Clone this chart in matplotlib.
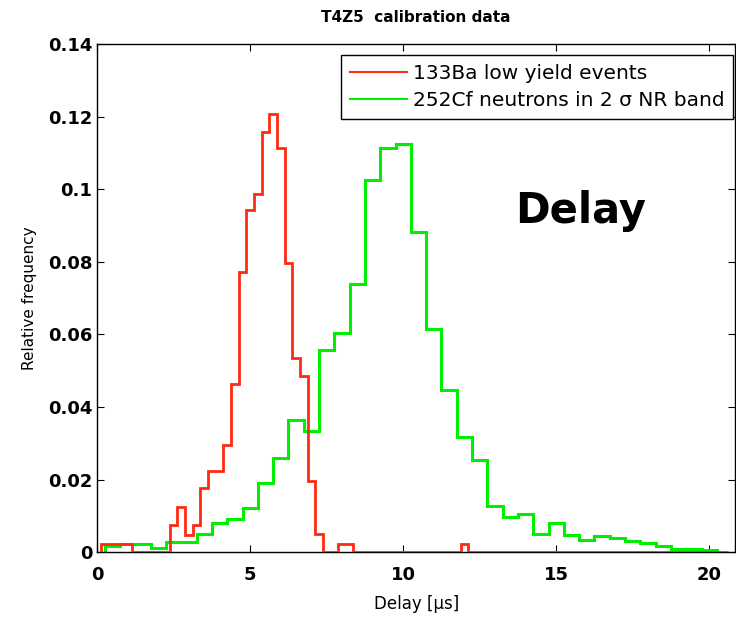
import numpy as np
import matplotlib
matplotlib.use("Agg")
import matplotlib.pyplot as plt

# 133Ba low yield events: bin centres (0.25 us bins) and relative frequency
ba_centers = [0.25, 0.5, 0.75, 1.0,
              2.5, 2.75, 3.0, 3.25, 3.5, 3.75, 4.0, 4.25, 4.5, 4.75,
              5.0, 5.25, 5.5, 5.75, 6.0, 6.25, 6.5, 6.75, 7.0, 7.25,
              8.0, 8.25, 12.0]
ba_values = [0.0023, 0.0023, 0.0023, 0.0023,
             0.0074, 0.0125, 0.0048, 0.0074, 0.0176, 0.0224, 0.0224, 0.0294, 0.0462, 0.0772,
             0.0943, 0.0987, 0.1157, 0.1208, 0.1112, 0.0797, 0.0535, 0.0485, 0.0197, 0.0049,
             0.0023, 0.0023, 0.0023]

# 252Cf neutrons in 2 sigma NR band: bin centres (0.5 us bins)
cf_centers = [0.5, 1.0, 1.5, 2.0, 2.5, 3.0, 3.5, 4.0, 4.5, 5.0,
              5.5, 6.0, 6.5, 7.0, 7.5, 8.0, 8.5, 9.0, 9.5, 10.0,
              10.5, 11.0, 11.5, 12.0, 12.5, 13.0, 13.5, 14.0, 14.5, 15.0,
              15.5, 16.0, 16.5, 17.0, 17.5, 18.0, 18.5, 19.0, 19.5, 20.0]
cf_values = [0.0017, 0.0023, 0.0023, 0.0012, 0.0028, 0.0028, 0.0051, 0.0079, 0.0091, 0.0122,
             0.0190, 0.0259, 0.0364, 0.0335, 0.0557, 0.0603, 0.0740, 0.1025, 0.1113, 0.1125,
             0.0883, 0.0616, 0.0446, 0.0318, 0.0255, 0.0128, 0.0097, 0.0104, 0.0051, 0.0081,
             0.0047, 0.0033, 0.0044, 0.0040, 0.0031, 0.0024, 0.0017, 0.0008, 0.0008, 0.0006]

y_ticks = [0, 0.02, 0.04, 0.06, 0.08, 0.1, 0.12, 0.14]
y_ticklabels = ["0", "0.02", "0.04", "0.06", "0.08", "0.1", "0.12", "0.14"]
x_ticks = [0, 5, 10, 15, 20]

# red histogram on a full 0.25 grid up to 20.5 (empty bins = 0)
ba_width = 0.25
ba_grid = np.arange(1, 83) * ba_width
ba_full = np.zeros(len(ba_grid))
for c, v in zip(ba_centers, ba_values):
    ba_full[int(round(c / ba_width)) - 1] = v
ba_edges = np.append(ba_grid - ba_width / 2, ba_grid[-1] + ba_width / 2)

cf_width = 0.5
cf_edges = np.append(np.array(cf_centers) - cf_width / 2, cf_centers[-1] + cf_width / 2)

fig = plt.figure(figsize=(7.36, 6.19), dpi=100)
ax = fig.add_axes([0.132, 0.108, 0.867, 0.821])

ax.stairs(cf_values, cf_edges, color="#00ee00", linewidth=2.2,
          label="252Cf neutrons in 2 \u03c3 NR band", zorder=2)
ax.stairs(ba_full, ba_edges, color="#ff2a10", linewidth=2.0,
          label="133Ba low yield events", zorder=3)

ax.set_xlim(0, 20.85)
ax.set_ylim(0, 0.14)
ax.set_xticks(x_ticks)
ax.set_yticks(y_ticks)
ax.set_yticklabels(y_ticklabels)
ax.tick_params(direction="in", top=True, right=True, length=5, width=0.8,
               labelsize=13)
ax.tick_params(axis="x", pad=10)
for lab in ax.get_xticklabels() + ax.get_yticklabels():
    lab.set_fontweight("bold")
for sp in ax.spines.values():
    sp.set_linewidth(1.0)

ax.set_title("T4Z5  calibration data", fontsize=11, fontweight="semibold", pad=16)
ax.set_xlabel("Delay [\u03bcs]", fontsize=12, labelpad=8)
ax.set_ylabel("Relative frequency", fontsize=11, labelpad=8)

ax.text(15.8, 0.094, "Delay", fontsize=30, fontweight="bold",
        ha="center", va="center")

handles, labels = ax.get_legend_handles_labels()
leg = ax.legend(handles[::-1], labels[::-1], loc="upper right",
                bbox_to_anchor=(0.997, 0.978), borderaxespad=0,
                fontsize=14.5, handlelength=2.8, handletextpad=0.3,
                labelspacing=0.4, borderpad=0.45, fancybox=False,
                edgecolor="black", framealpha=1)
leg.get_frame().set_linewidth(1.0)
for line in leg.get_lines():
    line.set_linewidth(1.5)

fig.savefig("out.png", dpi=100)
